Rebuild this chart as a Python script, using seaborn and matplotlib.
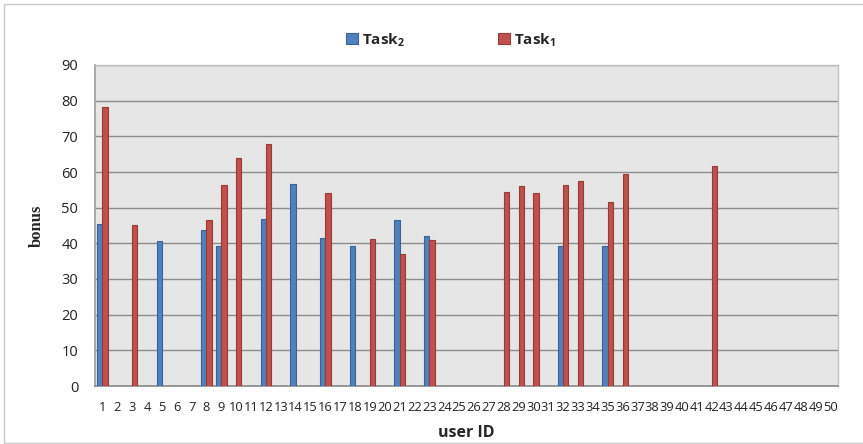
import numpy as np
import pandas as pd
import matplotlib
matplotlib.use("Agg")
import matplotlib.pyplot as plt
from matplotlib.patches import Rectangle, Patch
import seaborn as sns

# User IDs 1..50 and the bonus each task earned (NaN = no bonus recorded)
user_ids = list(range(1, 51))

task2_users = [1, 5, 8, 9, 12, 14, 16, 18, 21, 23, 32, 35]
task2_bonus = [45.4, 40.6, 43.6, 39.2, 46.8, 56.6, 41.5, 39.2, 46.5, 42.1, 39.3, 39.3]

task1_users = [1, 3, 8, 9, 10, 12, 16, 19, 21, 23, 28, 29, 30, 32, 33, 35, 36, 42]
task1_bonus = [78.3, 45.1, 46.5, 56.4, 63.8, 67.9, 54.0, 41.2, 37.1, 40.8,
               54.5, 56.1, 54.0, 56.4, 57.5, 51.6, 59.3, 61.6]

series_names = ["Task2", "Task1"]
series_labels = [r"Task$_{\mathbf{2}}$", r"Task$_{\mathbf{1}}$"]
fill_colors = ["#4F81BD", "#C0504D"]
edge_colors = ["#3A6396", "#973B38"]

y_ticks = list(range(0, 91, 10))


def full_series(users, values):
    col = np.full(len(user_ids), np.nan)
    for u, v in zip(users, values):
        col[u - 1] = v
    return col


df = pd.DataFrame({
    "user": user_ids * 2,
    "task": ["Task2"] * len(user_ids) + ["Task1"] * len(user_ids),
    "bonus": np.concatenate([full_series(task2_users, task2_bonus),
                             full_series(task1_users, task1_bonus)]),
})

sns.set_theme(style="white")
plt.rcParams["font.family"] = ["Open Sans", "DejaVu Sans"]
plt.rcParams["mathtext.fontset"] = "custom"
plt.rcParams["mathtext.rm"] = "Open Sans"
plt.rcParams["mathtext.bf"] = "Open Sans:bold"

fig = plt.figure(figsize=(8.63, 4.44), dpi=100)
fig.patch.set_facecolor("white")

# light frame around the whole chart area
fig.patches.append(Rectangle((4 / 863, 1 / 444), 1.2, 439 / 444,
                             transform=fig.transFigure, fill=False,
                             edgecolor="#C8C8C8", linewidth=1.0, zorder=0))

ax = fig.add_axes([95 / 863, 1 - 386 / 444, (838 - 95) / 863, (386 - 65) / 444])
ax.set_facecolor("#E6E6E6")

sns.barplot(data=df, x="user", y="bonus", hue="task", hue_order=series_names,
            palette=fill_colors, width=0.7, gap=0, dodge=True, ax=ax,
            legend=False, errorbar=None, saturation=1)

for container, ec in zip(ax.containers, edge_colors):
    for bar in container:
        bar.set_edgecolor(ec)
        bar.set_linewidth(0.8)
        bar.set_zorder(3)

ax.set_ylim(0, 90)
ax.set_xlim(-0.5, len(user_ids) - 0.5)
ax.set_yticks(y_ticks)
ax.set_yticklabels([str(t) for t in y_ticks], fontsize=10.5, color="#222222")
ax.set_xticks(range(len(user_ids)))
ax.set_xticklabels([str(u) for u in user_ids], fontsize=9.3, color="#222222")
ax.tick_params(axis="x", length=0, pad=11)
ax.tick_params(axis="y", length=0, pad=12)

for t in y_ticks[1:]:
    ax.axhline(t, color="#8C8C8C", linewidth=1.0, zorder=1)

for side in ["top", "right"]:
    ax.spines[side].set_color("#C0C0C0")
    ax.spines[side].set_linewidth(1.0)
ax.spines["bottom"].set_color("#8C8C8C")
ax.spines["left"].set_color("#A0A0A0")
for s in ax.spines.values():
    s.set_zorder(2)

ax.set_xlabel("user ID", fontsize=11.5, fontweight="bold", labelpad=8)
ax.set_ylabel("bonus", fontsize=12, fontweight="bold",
              family=["Liberation Serif", "DejaVu Serif"], labelpad=12)

handles = [Patch(facecolor=c, edgecolor=e, linewidth=0.8)
           for c, e in zip(fill_colors, edge_colors)]
fig.legend(handles, series_labels, loc="center", bbox_to_anchor=(451 / 863, 1 - 40 / 444),
           ncol=2, frameon=False, columnspacing=6.1, handlelength=0.75, handleheight=0.75,
           handletextpad=0.3, prop={"weight": "bold", "size": 11})

fig.savefig("out.png", dpi=100, facecolor="white")
